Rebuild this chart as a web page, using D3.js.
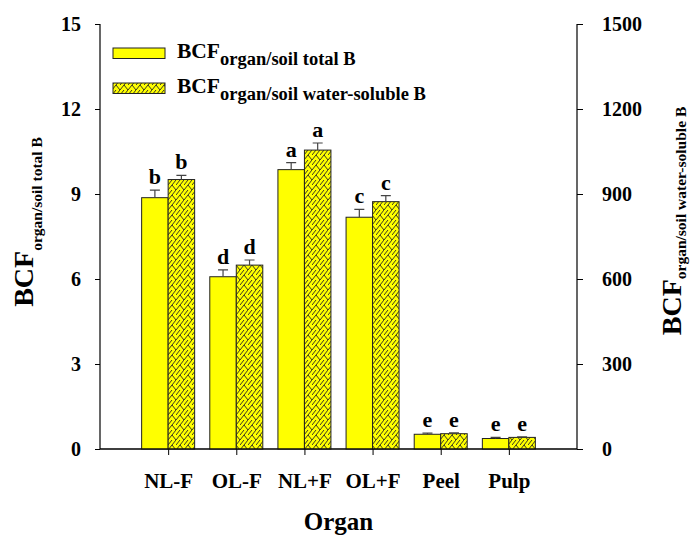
<!DOCTYPE html>
<html><head><meta charset="utf-8">
<script src="https://cdn.jsdelivr.net/npm/d3@7"></script>
<style>body{margin:0;background:#fff}svg{display:block}</style>
</head><body>
<script>
const categories = ["NL-F","OL-F","NL+F","OL+F","Peel","Pulp"];
const totalB = [8.87, 6.08, 9.86, 8.18, 0.52, 0.37];
const totalErr = [0.27, 0.24, 0.25, 0.28, 0.04, 0.04];
const waterB = [951, 649, 1055, 873, 54, 41];
const waterErr = [15, 18, 25, 21, 3, 2];
const totalLetters = ["b","d","a","c","e","e"];
const waterLetters = ["b","d","a","c","e","e"];
const leftTicks = [0,3,6,9,12,15];
const rightTicks = [0,300,600,900,1200,1500];

const W=690,H=535;
const svg=d3.select("body").append("svg").attr("width",W).attr("height",H);
const font="'Liberation Serif','Times New Roman',serif";
const L=100,R=577,T=24,B=449;
const x=d3.scaleLinear().domain([0,categories.length+1]).range([L,R]);
const yL=d3.scaleLinear().domain([0,15]).range([B,T]);
const yR=d3.scaleLinear().domain([0,1500]).range([B,T]);
const bw=26.5;

const defs=svg.append("defs");
const pat=defs.append("pattern").attr("id","hatch").attr("patternUnits","userSpaceOnUse")
  .attr("width",8).attr("height",10);
pat.append("rect").attr("width",8).attr("height",10).attr("fill","#ffff00");
pat.append("path").attr("d","M0,10 L8,0 M-4,5 L0,10 M4,5 L8,10 M0,5 L4,0 M4,0 L8,-5")
  .attr("stroke","#222").attr("stroke-width",0.9).attr("fill","none");

// axes
const axL=svg.append("g").attr("transform",`translate(${L},0)`)
  .call(d3.axisLeft(yL).tickValues(leftTicks).tickSize(5).tickPadding(14).tickFormat(d3.format("d")));
const axR=svg.append("g").attr("transform",`translate(${R},0)`)
  .call(d3.axisRight(yR).tickValues(rightTicks).tickSize(6).tickPadding(19).tickFormat(d3.format("d")));
const axB=svg.append("g").attr("transform",`translate(0,${B})`)
  .call(d3.axisBottom(x).tickValues(d3.range(1,categories.length+1)).tickSize(6).tickPadding(18)
  .tickFormat(i=>categories[i-1]));
[axL,axR,axB].forEach(a=>{
  a.select(".domain").attr("stroke","#000").attr("stroke-width",1.2);
  a.selectAll(".tick line").attr("stroke","#000").attr("stroke-width",1);
  a.selectAll("text").attr("font-family",font).attr("font-weight","bold").attr("fill","#000");
});
axL.select(".domain").attr("d",`M0,${B}V${T}`);
axR.select(".domain").attr("d",`M0,${B}V${T}`);
axB.select(".domain").attr("d",`M${L},0H${R}`);
axL.selectAll("text").attr("font-size",20);
axR.selectAll("text").attr("font-size",20);
axB.selectAll("text").attr("font-size",21);

// bars
const g=svg.append("g");
categories.forEach((c,i)=>{
  const cx=x(i+1);
  g.append("rect").attr("x",cx-bw).attr("y",yL(totalB[i])).attr("width",bw)
    .attr("height",B-yL(totalB[i])).attr("fill","#ffff00").attr("stroke","#222").attr("stroke-width",1);
  const et=yL(totalB[i]+totalErr[i]);
  g.append("path").attr("d",`M${cx-bw/2},${yL(totalB[i])}V${et}M${cx-bw/2-5},${et}H${cx-bw/2+5}`)
    .attr("stroke","#444").attr("stroke-width",1.2).attr("fill","none");
  g.append("text").attr("x",cx-bw/2).attr("y",et-6).attr("text-anchor","middle")
    .attr("font-family",font).attr("font-weight","bold").attr("font-size",22).text(totalLetters[i]);
  g.append("rect").attr("x",cx).attr("y",yR(waterB[i])).attr("width",bw)
    .attr("height",B-yR(waterB[i])).attr("fill","url(#hatch)").attr("stroke","#222").attr("stroke-width",1);
  const ew=yR(waterB[i]+waterErr[i]);
  g.append("path").attr("d",`M${cx+bw/2},${yR(waterB[i])}V${ew}M${cx+bw/2-5},${ew}H${cx+bw/2+5}`)
    .attr("stroke","#444").attr("stroke-width",1.2).attr("fill","none");
  g.append("text").attr("x",cx+bw/2).attr("y",ew-6).attr("text-anchor","middle")
    .attr("font-family",font).attr("font-weight","bold").attr("font-size",22).text(waterLetters[i]);
});
svg.append("path").attr("d",`M${L},${B}H${R}`).attr("stroke","#000").attr("stroke-width",1.2);

// legend
const leg=[{fill:"#ffff00",sub:"organ/soil total B",y:48},{fill:"url(#hatch)",sub:"organ/soil water-soluble B",y:83}];
leg.forEach(d=>{
  svg.append("rect").attr("x",113).attr("y",d.y).attr("width",52).attr("height",10.5)
    .attr("fill",d.fill).attr("stroke","#222").attr("stroke-width",1);
  const t=svg.append("text").attr("x",177).attr("y",d.y+10).attr("font-family",font)
    .attr("font-weight","bold").attr("font-size",21.5);
  t.append("tspan").text("BCF");
  t.append("tspan").attr("dy",7).attr("font-size",18.5).text(d.sub);
});

// axis titles
function ytitle(xp,yp,sub,dy){
  const t=svg.append("text").attr("transform",`translate(${xp},${yp}) rotate(-90)`)
    .attr("text-anchor","middle").attr("font-family",font).attr("font-weight","bold").attr("font-size",28);
  t.append("tspan").text("BCF");
  t.append("tspan").attr("dy",dy).attr("font-size",15.5).text(sub);
}
ytitle(33,222,"organ/soil total B",9);
ytitle(681,221,"organ/soil water-soluble B",5);
svg.append("text").attr("x",(L+R)/2).attr("y",530).attr("text-anchor","middle")
  .attr("font-family",font).attr("font-weight","bold").attr("font-size",25).text("Organ");
</script>
</body></html>
